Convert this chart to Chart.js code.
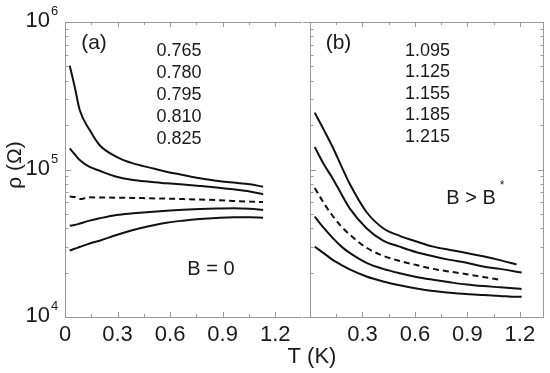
<!DOCTYPE html>
<html>
<head>
<meta charset="utf-8">
<script src="https://cdn.jsdelivr.net/npm/chart.js@4.4.0/dist/chart.umd.min.js"></script>
<style>
  html, body { margin: 0; padding: 0; background: #fff; }
  #wrap { position: relative; width: 550px; height: 373px; overflow: hidden; }
  #wrap canvas { position: absolute; top: 0; }
</style>
</head>
<body>
<div id="wrap">
  <canvas id="chartA" width="550" height="373" style="left:0"></canvas>
  <canvas id="chartB" width="247" height="373" style="left:303px"></canvas>
</div>
<script>
// ===== DATA: panel (a), B = 0 =====
const tempA = [0.027, 0.055, 0.084, 0.141, 0.198, 0.294, 0.389, 0.484, 0.579, 0.674, 0.770, 0.865, 0.960, 1.055, 1.131];
const rhoA765 = [5.06e5, 3.65e5, 2.53e5, 1.85e5, 1.46e5, 1.22e5, 1.10e5, 1.03e5, 9.66e4, 9.18e4, 8.71e4, 8.40e4, 8.15e4, 7.94e4, 7.64e4];
const rhoA780 = [1.39e5, 1.27e5, 1.16e5, 1.04e5, 9.80e4, 8.94e4, 8.49e4, 8.27e4, 8.06e4, 7.90e4, 7.73e4, 7.55e4, 7.34e4, 7.10e4, 6.79e4];
const rhoA795 = [6.55e4, 6.50e4, 6.30e4, 6.48e4, 6.46e4, 6.44e4, 6.42e4, 6.38e4, 6.35e4, 6.30e4, 6.25e4, 6.20e4, 6.12e4, 6.06e4, 6.02e4];
const rhoA810 = [4.16e4, 4.20e4, 4.30e4, 4.50e4, 4.67e4, 4.92e4, 5.05e4, 5.16e4, 5.26e4, 5.34e4, 5.40e4, 5.44e4, 5.46e4, 5.42e4, 5.31e4];
const rhoA825 = [2.82e4, 2.90e4, 2.98e4, 3.15e4, 3.29e4, 3.60e4, 3.89e4, 4.14e4, 4.36e4, 4.50e4, 4.61e4, 4.69e4, 4.74e4, 4.74e4, 4.71e4];
const labelsA = ["0.765", "0.780", "0.795", "0.810", "0.825"];

// ===== DATA: panel (b), B > B* =====
const tempB = [0.027, 0.080, 0.132, 0.180, 0.227, 0.323, 0.418, 0.513, 0.609, 0.704, 0.800, 0.895, 0.990, 1.086, 1.181, 1.210];
const rhoB1095 = [2.43e5, 1.85e5, 1.40e5, 1.05e5, 8.00e4, 5.15e4, 4.00e4, 3.55e4, 3.25e4, 3.00e4, 2.85e4, 2.72e4, 2.58e4, 2.43e4, 2.27e4, null];
const rhoB1125 = [1.42e5, 1.08e5, 8.60e4, 6.80e4, 5.45e4, 4.00e4, 3.30e4, 3.00e4, 2.75e4, 2.58e4, 2.44e4, 2.33e4, 2.20e4, 2.12e4, 2.03e4, 2.00e4];
const rhoB1155 = [7.50e4, 5.90e4, 4.80e4, 4.10e4, 3.62e4, 2.95e4, 2.60e4, 2.40e4, 2.25e4, 2.12e4, 2.03e4, 1.95e4, 1.87e4, 1.79e4, null, null];
const rhoB1185 = [4.79e4, 4.00e4, 3.41e4, 3.00e4, 2.72e4, 2.33e4, 2.12e4, 1.98e4, 1.87e4, 1.79e4, 1.72e4, 1.66e4, 1.62e4, 1.59e4, 1.56e4, 1.55e4];
const rhoB1215 = [3.00e4, 2.70e4, 2.43e4, 2.25e4, 2.10e4, 1.88e4, 1.74e4, 1.64e4, 1.56e4, 1.50e4, 1.46e4, 1.43e4, 1.41e4, 1.39e4, 1.37e4, 1.37e4];
const labelsB = ["1.095", "1.125", "1.155", "1.185", "1.215"];

// ===== AXES =====
const xMajor = [0, 0.3, 0.6, 0.9, 1.2];
const xMinor = [0.15, 0.45, 0.75, 1.05];
const yDecades = [1e4, 1e5, 1e6];

const FONT = "'Liberation Sans', Arial, Helvetica, sans-serif";
const FRAME = "#9a9a9a";
const INK = "#1a1a1a";

function series(temps, vals, dashed) {
  const data = [];
  temps.forEach((t, i) => { if (vals[i] != null) data.push({ x: t, y: vals[i] }); });
  return {
    data,
    borderColor: "#111",
    borderWidth: 2,
    borderDash: dashed ? [6, 4] : [],
    pointRadius: 0,
    cubicInterpolationMode: "monotone",
    fill: false
  };
}

// frame + inward ticks, drawn from the chart's own scales
function drawFrame(chart, o) {
  const { ctx, chartArea: a, scales: { x, y } } = chart;
  ctx.save();
  ctx.strokeStyle = FRAME;
  ctx.lineWidth = 1;
  ctx.beginPath();
  const x0 = o.lineStart != null ? o.lineStart : a.left;
  ctx.moveTo(x0, a.top + 0.5); ctx.lineTo(a.right, a.top + 0.5);
  ctx.moveTo(x0, a.bottom + 0.5); ctx.lineTo(a.right, a.bottom + 0.5);
  ctx.moveTo(a.left + 0.5, a.top); ctx.lineTo(a.left + 0.5, a.bottom + 1);
  if (o.rightBorder) { ctx.moveTo(a.right - 0.5, a.top); ctx.lineTo(a.right - 0.5, a.bottom + 1); }
  // x ticks (top and bottom)
  const xt = (list, len) => list.forEach(t => {
    const px = Math.round(x.getPixelForValue(t)) + 0.5;
    if (px <= a.left + 1) return;
    ctx.moveTo(px, a.bottom); ctx.lineTo(px, a.bottom - len);
    ctx.moveTo(px, a.top); ctx.lineTo(px, a.top + len);
  });
  xt(xMajor, 5);
  xt(xMinor, 3);
  // y ticks (log)
  const yt = (v, len) => {
    const py = Math.round(y.getPixelForValue(v)) + 0.5;
    if (py <= a.top + 1 || py >= a.bottom) return;
    ctx.moveTo(a.left, py); ctx.lineTo(a.left + len, py);
    if (o.rightBorder) { ctx.moveTo(a.right, py); ctx.lineTo(a.right - len, py); }
  };
  yDecades.forEach(d => {
    yt(d, 6);
    if (d < 1e6) for (let m = 2; m <= 9; m++) yt(m * d, 3.5);
  });
  ctx.stroke();
  ctx.restore();
}

function txt(ctx, s, x, y, size, align) {
  ctx.font = size + "px " + FONT;
  ctx.textAlign = align || "center";
  ctx.textBaseline = "middle";
  ctx.fillText(s, x, y);
}

// ===== PANEL (a) =====
const panelA = {
  id: "panelA",
  afterDraw(chart) {
    const { ctx, scales: { y } } = chart;
    drawFrame(chart, { rightBorder: false });
    ctx.save();
    ctx.fillStyle = INK;
    // y tick labels 10^n
    yDecades.forEach(d => {
      const py = y.getPixelForValue(d);
      ctx.textBaseline = "alphabetic";
      ctx.font = "22px " + FONT;
      ctx.textAlign = "right";
      ctx.fillText("10", 50, py + 5);
      ctx.font = "13px " + FONT;
      ctx.textAlign = "left";
      ctx.fillText(String(Math.round(Math.log10(d))), 51, py - 7);
    });
    // y title
    ctx.save();
    ctx.translate(15, 165);
    ctx.rotate(-Math.PI / 2);
    txt(ctx, "ρ (Ω)", 0, 0, 21);
    ctx.restore();
    // x title spans both panels
    txt(ctx, "T (K)", 312, 357, 22);
    txt(ctx, "(a)", 94, 43, 21);
    const rows = [51, 73, 95, 117, 139];
    labelsA.forEach((s, i) => txt(ctx, s, 179, rows[i], 18));
    txt(ctx, "B = 0", 211, 269, 20);
    ctx.restore();
  }
};

// ===== PANEL (b) =====
const panelB = {
  id: "panelB",
  afterDraw(chart) {
    const { ctx } = chart;
    drawFrame(chart, { rightBorder: true, lineStart: 0 });
    ctx.save();
    ctx.fillStyle = INK;
    const ox = 303;
    txt(ctx, "(b)", 338.5 - ox, 43, 21);
    const rows = [51.5, 72.5, 94, 115.5, 137.5];
    labelsB.forEach((s, i) => txt(ctx, s, 427.5 - ox, rows[i], 18));
    txt(ctx, "B > B", 471 - ox, 198, 20);
    txt(ctx, "*", 502 - ox, 186, 12);
    ctx.restore();
  }
};

function xAxis(xMax, hideZero) {
  return {
    type: "linear",
    min: 0,
    max: xMax,
    afterFit: s => { s.height = 56; },
    grid: { display: false, drawTicks: false },
    border: { display: false },
    ticks: {
      stepSize: 0.3,
      includeBounds: false,
      autoSkip: false,
      maxRotation: 0,
      padding: 5,
      color: INK,
      font: { family: FONT, size: 22 },
      callback: v => Math.abs(v) < 1e-9 ? (hideZero ? "" : "0") : v.toFixed(1)
    }
  };
}

const yAxis = { type: "logarithmic", min: 1e4, max: 1e6, display: false };

const common = {
  responsive: false,
  animation: false,
  events: [],
  plugins: { legend: { display: false }, tooltip: { enabled: false } }
};

new Chart(document.getElementById("chartA"), {
  type: "line",
  data: {
    datasets: [
      series(tempA, rhoA765, false),
      series(tempA, rhoA780, false),
      series(tempA, rhoA795, true),
      series(tempA, rhoA810, false),
      series(tempA, rhoA825, false)
    ]
  },
  options: Object.assign({}, common, {
    layout: { padding: { left: 65, right: 248, top: 22, bottom: 0 } },
    scales: { x: xAxis(1.353, false), y: yAxis }
  }),
  plugins: [panelA]
});

new Chart(document.getElementById("chartB"), {
  type: "line",
  data: {
    datasets: [
      series(tempB, rhoB1095, false),
      series(tempB, rhoB1125, false),
      series(tempB, rhoB1155, true),
      series(tempB, rhoB1185, false),
      series(tempB, rhoB1215, false)
    ]
  },
  options: Object.assign({}, common, {
    layout: { padding: { left: 7, right: 6, top: 22, bottom: 0 } },
    scales: { x: xAxis(1.338, true), y: yAxis }
  }),
  plugins: [panelB]
});
</script>
</body>
</html>
